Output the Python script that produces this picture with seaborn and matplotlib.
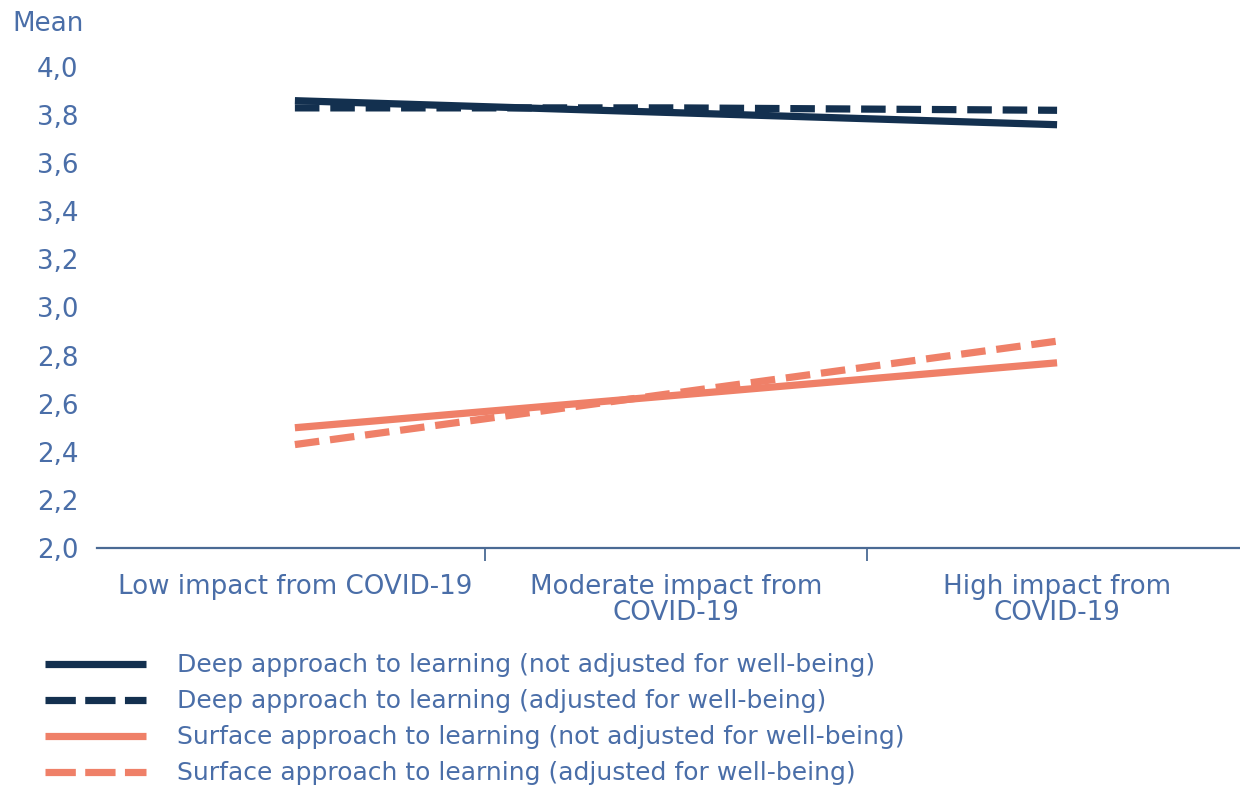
import matplotlib
matplotlib.use("Agg")
import matplotlib.pyplot as plt
import seaborn as sns
import pandas as pd
from matplotlib.lines import Line2D

# Categories and series values
categories = ["Low impact from COVID-19", "Moderate impact from\nCOVID-19", "High impact from\nCOVID-19"]
deep_not_adjusted = [3.86, 3.81, 3.76]
deep_adjusted = [3.83, 3.83, 3.82]
surface_not_adjusted = [2.50, 2.635, 2.77]
surface_adjusted = [2.43, 2.645, 2.86]
series_names = [
    "Deep approach to learning (not adjusted for well-being)",
    "Deep approach to learning (adjusted for well-being)",
    "Surface approach to learning (not adjusted for well-being)",
    "Surface approach to learning (adjusted for well-being)",
]
y_ticks = [2.0, 2.2, 2.4, 2.6, 2.8, 3.0, 3.2, 3.4, 3.6, 3.8, 4.0]

navy = "#13304f"
salmon = "#ef8068"
text_blue = "#4a6ea8"
axis_col = "#4a6a94"
fs = 18.8
leg_fs = 18.0

sns.set_theme(style="white")
plt.rcParams["font.family"] = ["DejaVu Sans"]

rows = []
for name, vals in zip(series_names, [deep_not_adjusted, deep_adjusted, surface_not_adjusted, surface_adjusted]):
    for i, v in enumerate(vals):
        rows.append({"series": name, "pos": i, "value": v})
df = pd.DataFrame(rows)

fig = plt.figure(figsize=(12.4, 7.93), dpi=100)
ax = fig.add_axes([0.078, 0.309, 0.922, 0.6065])

palette = {series_names[0]: navy, series_names[1]: navy,
           series_names[2]: salmon, series_names[3]: salmon}
dash_map = {series_names[0]: "", series_names[1]: (3.4, 1.5),
            series_names[2]: "", series_names[3]: (3.4, 1.5)}

sns.lineplot(data=df, x="pos", y="value", hue="series", style="series",
             palette=palette, dashes=dash_map, linewidth=5.2, ax=ax,
             legend=False, sort=False)
for ln in ax.lines:
    ln.set_solid_capstyle("butt")
    ln.set_dash_capstyle("butt")

ax.set_xlim(-0.52, 2.48)
ax.set_ylim(2.0, 4.0)
ax.set_yticks(y_ticks)
ax.set_yticklabels([f"{t:.1f}".replace(".", ",") for t in y_ticks])
ax.set_xticks([0, 1, 2])
ax.set_xticklabels(categories, linespacing=1.0)
ax.set_xticks([0.5, 1.5], minor=True)
ax.tick_params(axis="x", which="major", length=0, pad=19, labelsize=fs, labelcolor=text_blue)
ax.tick_params(axis="x", which="minor", length=9, width=1.3, color=axis_col, direction="out", bottom=True)
ax.tick_params(axis="y", length=0, pad=13, labelsize=fs, labelcolor=text_blue)
for lab in ax.get_yticklabels():
    lab.set_horizontalalignment("right")

for side in ["top", "right", "left"]:
    ax.spines[side].set_visible(False)
ax.spines["bottom"].set_color(axis_col)
ax.spines["bottom"].set_linewidth(1.6)
ax.set_xlabel("")
ax.set_ylabel("")

fig.text(0.010, 0.970, "Mean", color=text_blue, fontsize=fs, va="center", ha="left")

handles = [
    Line2D([], [], color=navy, lw=5.2, solid_capstyle="butt"),
    Line2D([], [], color=navy, lw=5.2, dashes=(4.2, 1.3), dash_capstyle="butt"),
    Line2D([], [], color=salmon, lw=5.2, solid_capstyle="butt"),
    Line2D([], [], color=salmon, lw=5.2, dashes=(4.2, 1.3), dash_capstyle="butt"),
]
leg = fig.legend(handles, series_names, loc="upper left", bbox_to_anchor=(0.036, 0.176),
                 frameon=False, fontsize=leg_fs, handlelength=4.05, handletextpad=1.25,
                 labelspacing=0.48, borderaxespad=0, borderpad=0)
for t in leg.get_texts():
    t.set_color(text_blue)

fig.savefig("out.png", dpi=100)
